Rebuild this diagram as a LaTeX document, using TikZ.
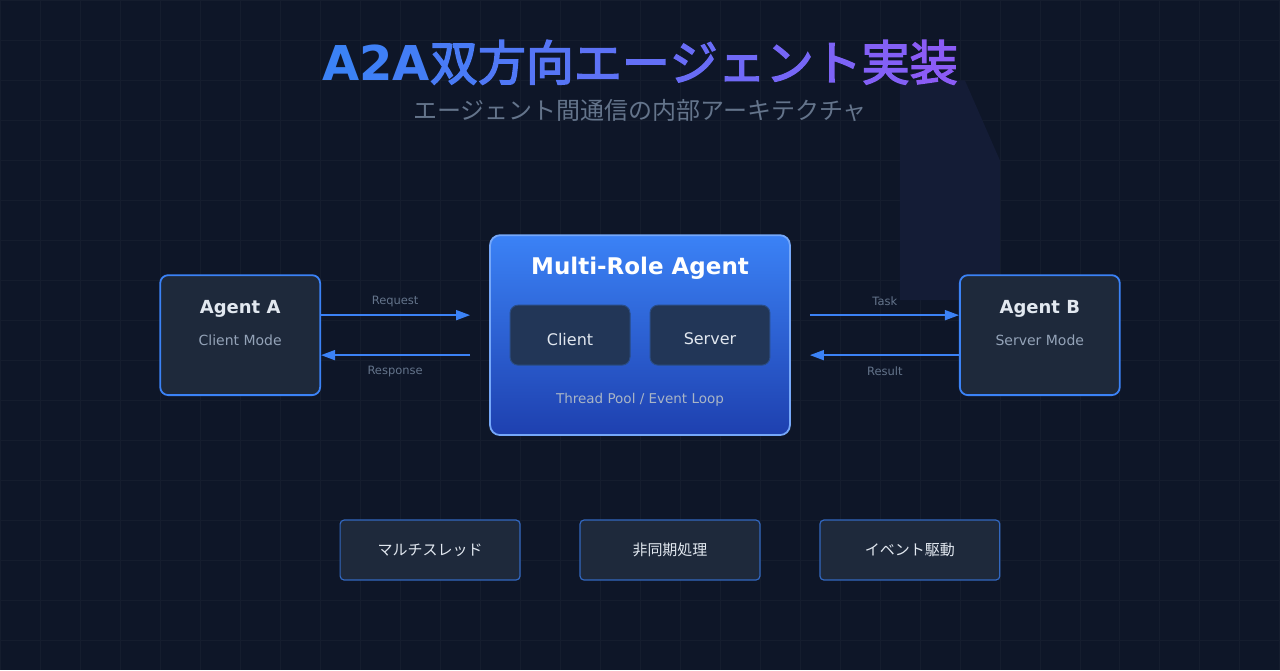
\documentclass[tikz,border=0pt]{standalone}
\usepackage{fontspec}
\setmainfont{DejaVu Sans}
\newfontfamily\jp{Noto Sans CJK JP}
\newfontfamily\jpb{Noto Sans CJK JP}[FakeBold=3]
\usetikzlibrary{arrows.meta}
\definecolor{bg}{HTML}{0E1628}
\definecolor{card}{HTML}{1E293B}
\definecolor{blu}{HTML}{3B82F6}
\definecolor{pur}{HTML}{8B5CF6}
\definecolor{gry}{HTML}{94A3B8}
\definecolor{dgry}{HTML}{64748B}
\definecolor{wht}{HTML}{E2E8F0}
\definecolor{dblu}{HTML}{1E40AF}
\definecolor{deco}{HTML}{141C36}
\tikzset{
 card/.style={draw=blu,line width=1.8pt,fill=card,rounded corners=8pt,minimum width=160pt,minimum height=120pt},
 inner/.style={draw=blu!40!card,line width=1pt,fill=card!85!blu,rounded corners=8pt,minimum width=120pt,minimum height=60pt,font=\fontsize{16}{18}\selectfont,text=wht,text height=12pt,text depth=0pt,yshift=0pt},
 feat/.style={draw=blu!70!card,line width=1.2pt,fill=card,rounded corners=4pt,minimum width=180pt,minimum height=60pt,font=\jp\fontsize{15}{18}\selectfont,text=wht},
 arr/.style={draw=blu,line width=1.6pt,-{Triangle[length=14pt,width=10pt]}},
 lbl/.style={text=dgry,font=\fontsize{11.5}{13}\selectfont}
}
\begin{document}
\begin{tikzpicture}[x=1pt,y=-1pt]
\fill[bg] (0,0) rectangle (1280,670);
\foreach \i in {0,40,...,1280} \draw[white!3!bg,line width=0.6pt] (\i,0)--(\i,670);
\foreach \j in {0,40,...,670} \draw[white!3!bg,line width=0.6pt] (0,\j)--(1280,\j);
\fill[deco] (900,80)--(965,80)--(1000,160)--(1000,300)--(900,300)--cycle;
% title
\node (title) at (640,62) {\fontsize{48}{54}\selectfont
\textcolor{blu}{\bfseries A}\textcolor{blu!95!pur}{\bfseries 2}\textcolor{blu!90!pur}{\bfseries A}\jpb\textcolor{blu!82!pur}{双}\textcolor{blu!74!pur}{方}\textcolor{blu!66!pur}{向}\textcolor{blu!58!pur}{エ}\textcolor{blu!50!pur}{ー}\textcolor{blu!42!pur}{ジ}\textcolor{blu!34!pur}{ェ}\textcolor{blu!26!pur}{ン}\textcolor{blu!18!pur}{ト}\textcolor{blu!10!pur}{実}\textcolor{pur}{装}};
\node[text=dgry,font=\jp\fontsize{24}{28}\selectfont] (sub) at (640,110) {エージェント間通信の内部アーキテクチャ};
% agents
\node[card] (a) at (240,335) {};
\node[text=wht,font=\bfseries\fontsize{18}{20}\selectfont] (at) at (240,309) {Agent A};
\node[text=gry,font=\fontsize{14}{16}\selectfont] (as) at (240,340) {Client Mode};
\node[card] (b) at (1040,335) {};
\node[text=wht,font=\bfseries\fontsize{18}{20}\selectfont] (bt) at (1040,309) {Agent B};
\node[text=gry,font=\fontsize{14}{16}\selectfont] (bs) at (1040,340) {Server Mode};
% multi-role
\shade[top color=blu,bottom color=dblu,rounded corners=10pt] (490,235) rectangle (790,435);
\draw[blu!70!white,line width=1.8pt,rounded corners=10pt] (490,235) rectangle (790,435);
\coordinate (mL1) at (470,315); \coordinate (mL2) at (470,355);
\coordinate (mR1) at (810,315); \coordinate (mR2) at (810,355);
\node[text=white,font=\bfseries\fontsize{23}{26}\selectfont] (mt) at (640,268) {Multi-Role Agent};
\node[inner] (cl) at (570,335) {};
\node[inner] (sv) at (710,335) {};
\node[text=wht,font=\fontsize{16}{18}\selectfont] (clt) at (570,339) {Client};
\node[text=wht,font=\fontsize{16}{18}\selectfont] (svt) at (710,339) {Server};
\node[text=gry!80!white,font=\fontsize{13.5}{16}\selectfont] (tp) at (640,400) {Thread Pool / Event Loop};
% arrows
\draw[arr] (a.east|-mL1) -- (mL1);
\draw[arr] (mL2) -- (a.east|-mL2);
\draw[arr] (mR1) -- (b.west|-mR1);
\draw[arr] (b.west|-mR2) -- (mR2);
\node[lbl] (l1) at (395,301) {Request};
\node[lbl] (l2) at (395,371) {Response};
\node[lbl] (l3) at (885,301) {Task};
\node[lbl] (l4) at (885,371) {Result};
% features
\node[feat] (f1) at (430,550) {マルチスレッド};
\node[feat] (f2) at (670,550) {非同期処理};
\node[feat] (f3) at (910,550) {イベント駆動};
\end{tikzpicture}
\end{document}
